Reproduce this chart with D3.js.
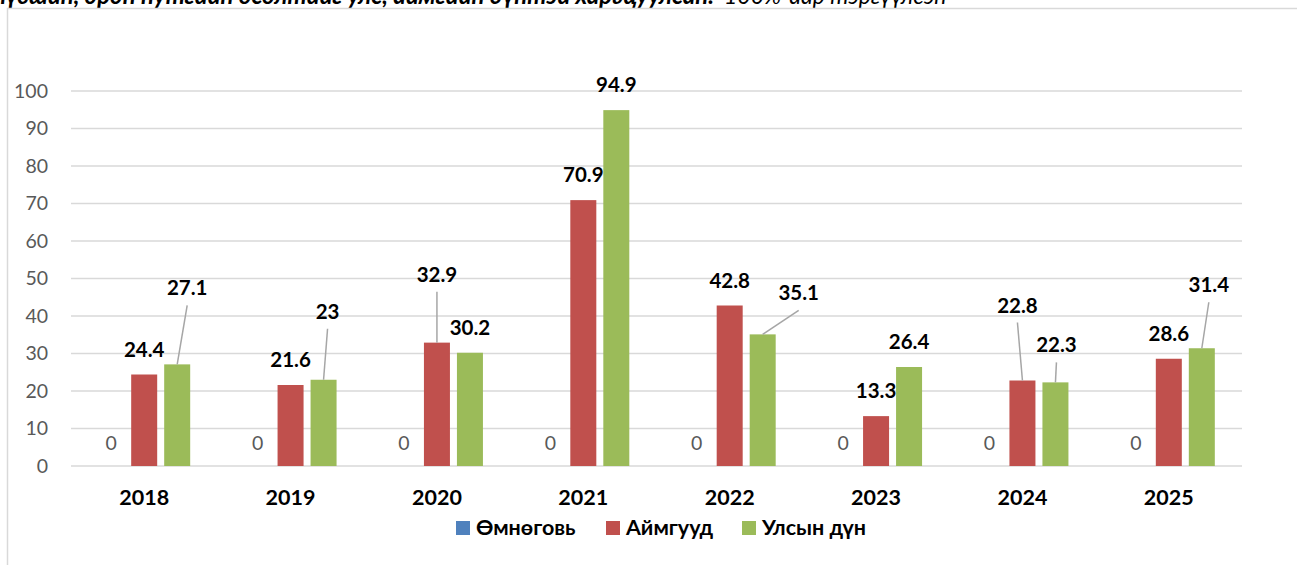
<!DOCTYPE html>
<html>
<head>
<meta charset="utf-8">
<script src="https://cdn.jsdelivr.net/npm/d3@7/dist/d3.min.js"></script>
<style>
  html, body { margin: 0; padding: 0; background: #fff; }
  svg { display: block; font-family: Lato, "Open Sans", sans-serif; }
</style>
</head>
<body>
<svg id="chart" width="1297" height="565"></svg>
<script>
// --- data ---
const years = ["2018", "2019", "2020", "2021", "2022", "2023", "2024", "2025"];
const seriesNames = ["Өмнөговь", "Аймгууд", "Улсын дүн"];
const omnogovi = [0, 0, 0, 0, 0, 0, 0, 0];
const aimguud = [24.4, 21.6, 32.9, 70.9, 42.8, 13.3, 22.8, 28.6];
const ulsynDun = [27.1, 23, 30.2, 94.9, 35.1, 26.4, 22.3, 31.4];
const yTicks = [0, 10, 20, 30, 40, 50, 60, 70, 80, 90, 100];

// label nudges (pixels) for the labels that were dragged in the original, by series then year
const labelShift = {
    "Аймгууд": { "2020": [0, -43], "2024": [-5, -50] },
    "Улсын дүн": { "2018": [10, -51], "2019": [4, -43], "2022": [36, -16], "2024": [1, -12], "2025": [7, -38] }
};

const colors = { "Өмнөговь": "#4F81BD", "Аймгууд": "#C0504D", "Улсын дүн": "#9BBB59" };

const svg = d3.select("#chart");

// --- title (cut off at the top in the original) ---
svg.append("text")
    .attr("x", 714).attr("y", 4)
    .attr("text-anchor", "end")
    .style("font-size", "24px").style("font-weight", "bold").style("font-style", "italic")
    .text("Үнийн ерөнхий түвшин, орон нутгийн өсөлтийг улс, аймгийн дүнтэй харьцуулсан.");
svg.append("text")
    .attr("x", 724).attr("y", 4)
    .style("font-size", "23px").style("font-style", "italic")
    .text("100%-аар тэргүүлсэн");

// chart frame
svg.append("path")
    .attr("d", "M7.5,570 V8.5 H1300")
    .attr("fill", "none").attr("stroke", "#D9D9D9").attr("stroke-width", 1.5);

// --- scales ---
const x = d3.scaleBand().domain(years).range([71, 1242]);
const bw = x.bandwidth();
const xSub = d3.scaleBand().domain(seriesNames)
    .range([bw / 2 - 46, bw / 2 + 46])
    .paddingInner(7 / 33).paddingOuter(0);
const y = d3.scaleLinear().domain([0, 100]).range([466, 91]);

// gridlines
svg.append("g").selectAll("line")
    .data(yTicks).join("line")
    .attr("x1", 71).attr("x2", 1242)
    .attr("y1", d => y(d)).attr("y2", d => y(d))
    .attr("stroke", "#D9D9D9").attr("stroke-width", 1.5);

// y tick labels
svg.append("g").selectAll("text")
    .data(yTicks).join("text")
    .attr("x", 48).attr("y", d => y(d))
    .attr("dy", "0.35em")
    .attr("text-anchor", "end")
    .attr("fill", "#595959")
    .style("font-size", "19.5px")
    .text(d => d);

// x category labels
svg.append("g").selectAll("text")
    .data(years).join("text")
    .attr("x", d => x(d) + bw / 2).attr("y", 505)
    .attr("text-anchor", "middle")
    .style("font-size", "21.5px").style("font-weight", "bold")
    .text(d => d);

// --- bars ---
const rows = [];
years.forEach((yr, i) => {
    [omnogovi, aimguud, ulsynDun].forEach((arr, s) => {
        rows.push({ year: yr, series: seriesNames[s], value: arr[i] });
    });
});

svg.append("g").selectAll("rect")
    .data(rows.filter(d => d.value > 0)).join("rect")
    .attr("x", d => x(d.year) + xSub(d.series))
    .attr("width", xSub.bandwidth())
    .attr("y", d => y(d.value))
    .attr("height", d => y(0) - y(d.value))
    .attr("fill", d => colors[d.series]);

// --- data labels ---
const labels = rows.map(d => {
    const cx = x(d.year) + xSub(d.series) + xSub.bandwidth() / 2;
    const shift = (labelShift[d.series] || {})[d.year] || [0, 0];
    return { ...d, barX: cx, barTop: y(d.value), lx: cx + shift[0], ly: y(d.value) - 18 + shift[1], moved: shift[1] !== 0 };
});

// leader lines
svg.append("g").selectAll("line")
    .data(labels.filter(d => d.moved)).join("line")
    .attr("x1", d => d.lx).attr("y1", d => d.ly + 10)
    .attr("x2", d => d.barX).attr("y2", d => d.barTop)
    .attr("stroke", "#A6A6A6").attr("stroke-width", 1.5);

svg.append("g").selectAll("text")
    .data(labels).join("text")
    .attr("x", d => d.lx)
    .attr("y", d => d.value === 0 ? y(0) - 16 : d.ly)
    .attr("text-anchor", "middle")
    .attr("fill", d => d.value === 0 ? "#595959" : "#000")
    .style("font-size", d => d.value === 0 ? "19.5px" : "20.5px")
    .style("font-weight", d => d.value === 0 ? "normal" : "bold")
    .text(d => d.value);

// --- legend ---
const legendX = [456, 606, 742];
const legend = svg.append("g").selectAll("g")
    .data(seriesNames).join("g")
    .attr("transform", (d, i) => `translate(${legendX[i]}, 521)`);
legend.append("rect")
    .attr("width", 14).attr("height", 14)
    .attr("fill", d => colors[d]);
legend.append("text")
    .attr("x", 20).attr("y", 14)
    .style("font-size", "21.5px").style("font-weight", "bold")
    .text(d => d);
</script>
</body>
</html>
